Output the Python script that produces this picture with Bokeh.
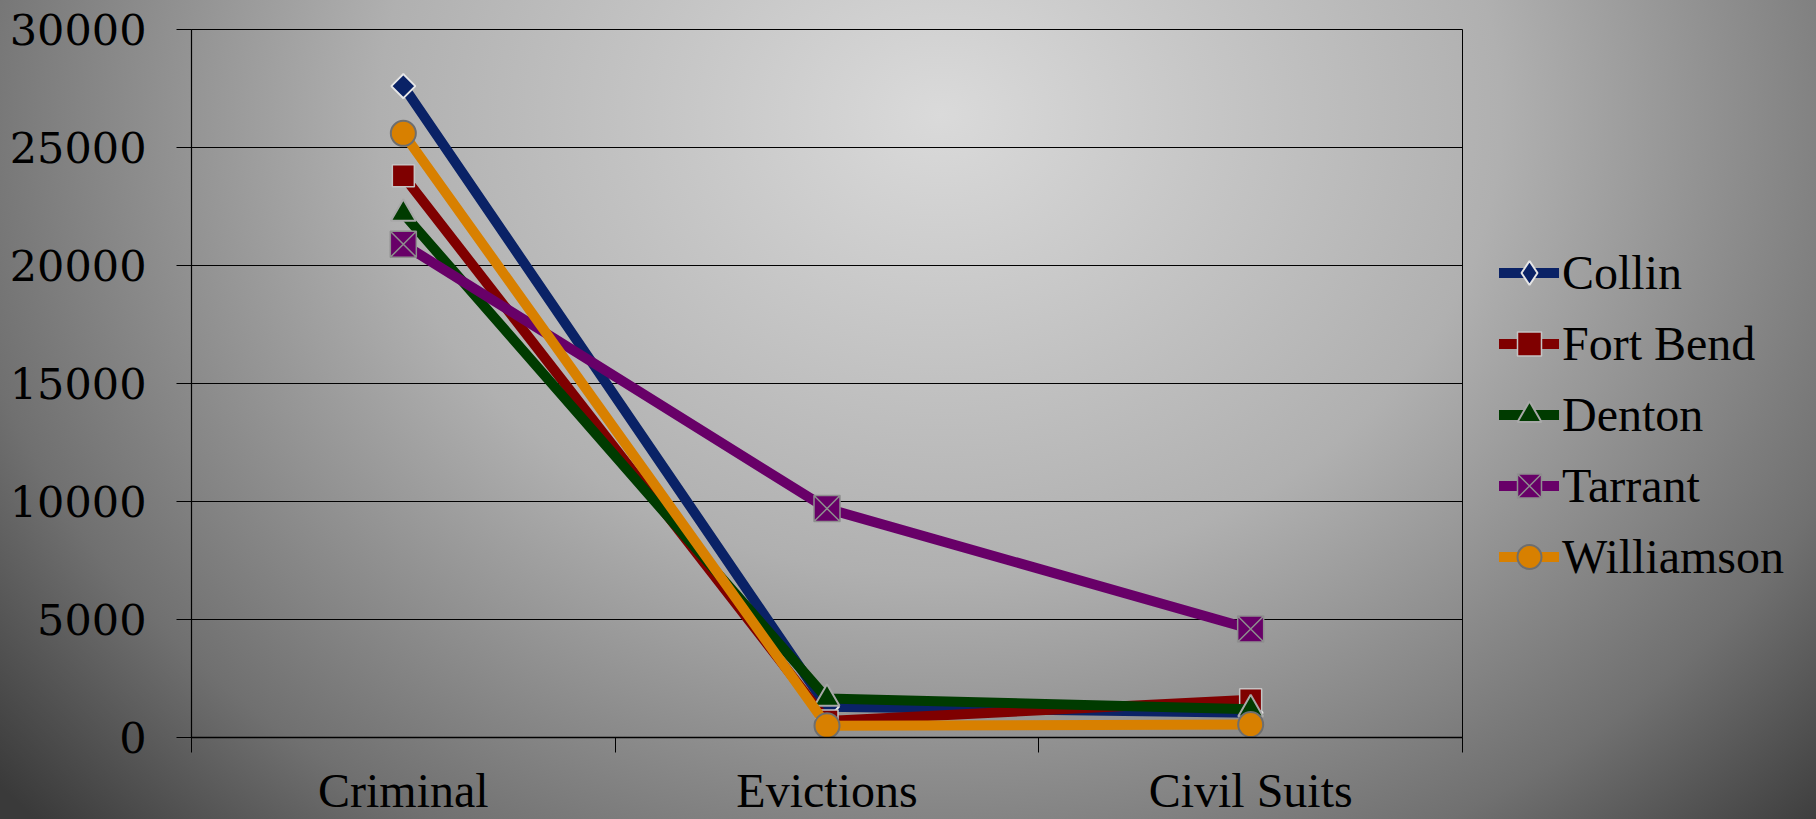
import math
from bokeh.plotting import figure
from bokeh.models import Range1d, FixedTicker, Legend, LegendItem
from bokeh.embed import file_html
from bokeh.resources import INLINE

categories = ["Criminal", "Evictions", "Civil Suits"]
x_pos = [0.5, 1.5, 2.5]
y_ticks = [0, 5000, 10000, 15000, 20000, 25000, 30000]

series_names = ["Collin", "Fort Bend", "Denton", "Tarrant", "Williamson"]
collin = [27600, 1300, 1050]
fort_bend = [23800, 700, 1600]
denton = [22200, 1650, 1200]
tarrant = [20900, 9700, 4600]
williamson = [25600, 500, 550]

FONT = "Liberation Serif"

p = figure(frame_width=1271, frame_height=708, output_backend="svg", toolbar_location=None,
           x_range=Range1d(0, 3), y_range=Range1d(0, 30000),
           min_border_left=191, min_border_right=354, min_border_top=29,
           min_border_bottom=82)
p.border_fill_color = None
p.background_fill_color = None
p.styles = {"background": "radial-gradient(ellipse 57% 125% at 43% 14%, #dadada 0%, #b0b0b0 45%, #707070 80%, #3a3a3a 100%)"}
p.outline_line_color = "black"
p.outline_line_width = 1

p.xgrid.visible = False
p.ygrid.ticker = FixedTicker(ticks=y_ticks)
p.ygrid.grid_line_color = "black"
p.ygrid.grid_line_width = 1.2

p.yaxis.ticker = FixedTicker(ticks=y_ticks)
p.yaxis.axis_line_color = "black"
p.yaxis.axis_line_width = 1.2
p.yaxis.major_tick_line_color = "black"
p.yaxis.major_tick_in = 0
p.yaxis.major_tick_out = 15
p.yaxis.minor_tick_line_color = None
p.yaxis.major_label_standoff = 30
p.yaxis.major_label_text_font = "DejaVu Serif"
p.yaxis.major_label_text_font_size = "43px"
p.yaxis.major_label_text_color = "black"

p.xaxis.ticker = FixedTicker(ticks=x_pos, minor_ticks=[0, 1, 2, 3])
p.xaxis.major_label_overrides = {x: c for x, c in zip(x_pos, categories)}
p.xaxis.axis_line_color = "black"
p.xaxis.axis_line_width = 1.5
p.xaxis.major_tick_line_color = None
p.xaxis.major_tick_in = 0
p.xaxis.major_tick_out = 0
p.xaxis.minor_tick_line_color = "black"
p.xaxis.minor_tick_in = 0
p.xaxis.minor_tick_out = 15
p.xaxis.major_label_standoff = 11
p.xaxis.major_label_text_font = FONT
p.xaxis.major_label_text_font_size = "48px"
p.xaxis.major_label_text_color = "black"

styles = [
    (collin, "#0a2266", dict(marker="square", size=17, angle=math.pi / 4, line_color="#e6e6e6", line_width=2)),
    (fort_bend, "#7f0000", dict(marker="square", size=22, line_color="#c4c4c4", line_width=1.5)),
    (denton, "#003b00", dict(marker="triangle", size=25, line_color="#a8a8a8", line_width=2)),
    (tarrant, "#680068", dict(marker="square_x", size=26, line_color="#8e8e8e", line_width=1.5)),
    (williamson, "#d88000", dict(marker="circle", size=25, line_color="#6e6e6e", line_width=2)),
]

items = []
for name, (vals, color, mk) in zip(series_names, styles):
    lr = p.line(x_pos, vals, line_width=10, line_color=color, line_cap="round", line_join="round")
    if mk.get("angle"):
        # diamond shape for the legend swatch, fully hidden under the rotated square
        dr = p.scatter(x_pos, vals, marker="diamond", size=24, fill_color=color,
                       line_color=mk["line_color"], line_width=2)
        sr = p.scatter(x_pos, vals, fill_color=color, **mk)
        items.append(LegendItem(label=name, renderers=[lr, dr]))
    else:
        sr = p.scatter(x_pos, vals, fill_color=color, **mk)
        items.append(LegendItem(label=name, renderers=[lr, sr]))

legend = Legend(items=items, location=(37, 150), orientation="vertical",
                glyph_width=60, glyph_height=61, spacing=10, padding=0, margin=0,
                label_standoff=3, border_line_color=None, background_fill_alpha=0,
                label_text_font=FONT, label_text_font_size="48px", label_text_color="black",
                label_height=61)
p.add_layout(legend, "right")

open("out.html", "w").write(file_html(p, INLINE))
